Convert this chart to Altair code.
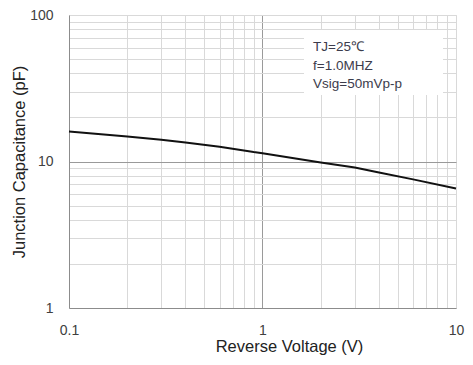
import altair as alt
import pandas as pd

# data
voltage = [0.1, 0.2, 0.3, 0.4, 0.6, 0.9, 1.0, 2.0, 3.0, 4.0, 6.0, 10.0]
capacitance = [16.0, 14.8, 14.1, 13.5, 12.6, 11.6, 11.4, 9.85, 9.1, 8.4, 7.55, 6.55]

x_ticks = [0.1, 0.2, 0.3, 0.4, 0.5, 0.6, 0.7, 0.8, 0.9,
           1, 2, 3, 4, 5, 6, 7, 8, 9, 10]
y_ticks = [1, 2, 3, 4, 5, 6, 7, 8, 9,
           10, 20, 30, 40, 50, 60, 70, 80, 90, 100]
x_labels = [0.1, 1, 10]
y_labels = [1, 10, 100]

notes = ["TJ=25\u2103", "f=1.0MHZ", "Vsig=50mVp-p"]
note_y = [32, 51, 69]

FONT = "Liberation Sans"

df = pd.DataFrame({"v": voltage, "c": capacitance})

def lab_expr(vals):
    return " || ".join(f"datum.value == {v}" for v in vals) + " ? datum.label : ''"

x_axis = alt.Axis(
    values=x_ticks, labelExpr=lab_expr(x_labels), format="~g",
    title="Reverse Voltage (V)", ticks=False, domainColor="#8c8c8c",
    gridColor={"condition": {"test": "datum.value == 1", "value": "#9a9a9a"}, "value": "#d9d9d9"},
    labelPadding=15, labelFontSize=14, labelColor="#404040", labelFont=FONT,
    titleFont=FONT, titleFontSize=16.5, titleFontWeight="normal", titleColor="#222222",
    titlePadding=1, labelFlush=False, titleX=220,
)
y_axis = alt.Axis(
    values=y_ticks, labelExpr=lab_expr(y_labels), format="~g",
    title="Junction Capacitance (pF)", ticks=False, domainColor="#8c8c8c",
    gridColor={"condition": {"test": "datum.value == 10", "value": "#9a9a9a"}, "value": "#d9d9d9"},
    labelPadding=16, labelFontSize=14, labelColor="#404040", labelFont=FONT,
    titleFont=FONT, titleFontSize=16.5, titleFontWeight="normal", titleColor="#222222",
    titlePadding=2, labelFlush=False,
)

xs = alt.Scale(type="log", domain=[0.1, 10], nice=False)
ys = alt.Scale(type="log", domain=[1, 100], nice=False)

line = alt.Chart(df).mark_line(color="#111111", strokeWidth=2).encode(
    x=alt.X("v:Q", scale=xs, axis=x_axis),
    y=alt.Y("c:Q", scale=ys, axis=y_axis),
)

box = alt.Chart(pd.DataFrame({"a": [0]})).mark_rect(color="white").encode(
    x=alt.value(235), x2=alt.value(374), y=alt.value(15), y2=alt.value(80)
)

notes_df = pd.DataFrame({"t": notes, "py": note_y})
text = alt.Chart(notes_df).mark_text(
    align="left", baseline="middle", font=FONT, fontSize=13.5, color="#3c3c4c"
).encode(x=alt.value(244), y=alt.Y("py:Q", scale=None), text="t:N")

chart = alt.layer(line, box, text).properties(
    width=387, height=293,
    autosize=alt.AutoSizeParams(type="none"),
    padding={"left": 61, "top": 7, "right": 9, "bottom": 48},
).configure_view(stroke="#8c8c8c", strokeWidth=1).configure(background="white")

chart.save("out.html", embed_options={"renderer": "svg", "actions": False})
